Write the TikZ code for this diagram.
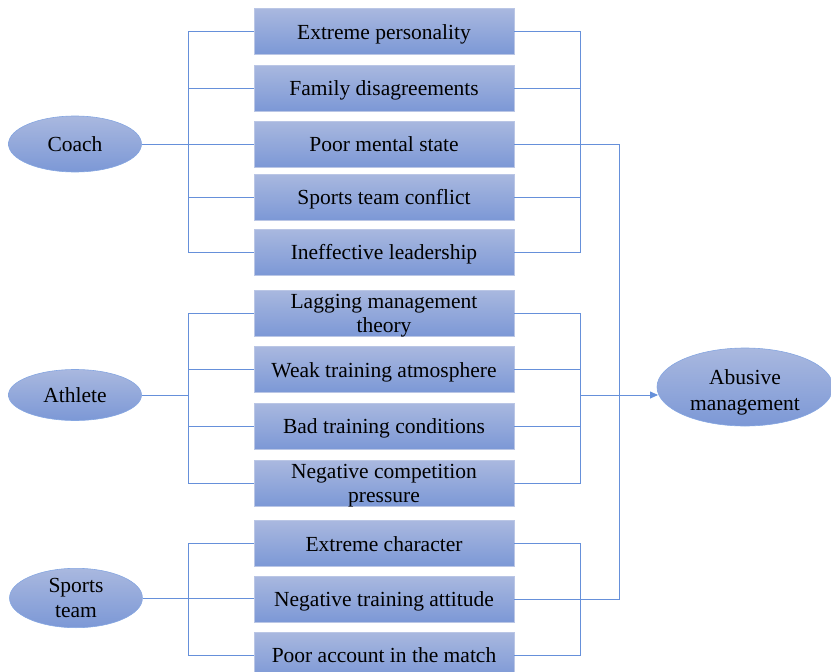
\documentclass[tikz,border=0pt]{standalone}
\usepackage{fontspec}
\setmainfont{Liberation Serif}
\usetikzlibrary{shapes.geometric,arrows.meta}
\definecolor{boxtop}{HTML}{A9B8DF}
\definecolor{boxbot}{HTML}{7C98D6}
\definecolor{linec}{HTML}{6690DA}
\begin{document}
\begin{tikzpicture}[x=1pt,y=-1pt,
  factor/.style={rectangle,minimum width=260pt,minimum height=46pt,inner sep=0pt,
    top color=boxtop,bottom color=boxbot,draw=boxtop!80!white,line width=0.6pt,
    font=\fontsize{21.5}{24}\selectfont,align=center,text height=17pt,text depth=2pt},
  actor/.style={ellipse,minimum width=133pt,minimum height=54pt,inner sep=0pt,
    top color=boxtop,bottom color=boxbot,draw=linec!80,line width=0.6pt,
    font=\fontsize{21.5}{25}\selectfont,align=center,text height=17pt,text depth=2pt},
  twoline/.style={text height=40pt,text depth=2pt},
  conn/.style={draw=linec,line width=0.8pt}]
\useasboundingbox (0,0) rectangle (831,672);
% Coach group
\node[factor] (b1) at (384,31.5) {Extreme personality};
\node[factor] (b2) at (384,88) {Family disagreements};
\node[factor] (b3) at (384,144) {Poor mental state};
\node[factor] (b4) at (384,197) {Sports team conflict};
\node[factor] (b5) at (384,252) {Ineffective leadership};
% Athlete group
\node[factor,twoline] (b6) at (384,313) {Lagging management\\theory};
\node[factor] (b7) at (384,369.5) {Weak training atmosphere};
\node[factor] (b8) at (384,426) {Bad training conditions};
\node[factor,twoline] (b9) at (384,483.5) {Negative competition\\pressure};
% Sports team group
\node[factor] (b10) at (384,543.5) {Extreme character};
\node[factor] (b11) at (384,599) {Negative training attitude};
\node[factor] (b12) at (384,655) {Poor account in the match};
% actors
\node[actor,minimum height=56pt] (coach) at (75,144) {Coach};
\node[actor,minimum height=51pt] (athlete) at (75,395) {Athlete};
\node[actor,minimum height=51pt,twoline] (team) at (76,598) {Sports\\team};
\node[actor,minimum width=176pt,minimum height=78pt,font=\fontsize{21.5}{26}\selectfont,
  text height=48pt,text depth=2pt] (abuse) at (745,387) {Abusive\\management};
% bus coordinates
\coordinate (cl) at (188,0);
\coordinate (cr) at (580,0);
\coordinate (m) at (619,0);
% Coach connectors
\draw[conn] (b1.west) -- (b1.west -| cl) -- (b5.west -| cl) -- (b5.west);
\draw[conn] (b2.west) -- (b2.west -| cl);
\draw[conn] (b4.west) -- (b4.west -| cl);
\draw[conn] (coach.east) -- (coach.east -| b3.west);
\draw[conn] (b1.east) -- (b1.east -| cr) -- (b5.east -| cr) -- (b5.east);
\draw[conn] (b2.east) -- (b2.east -| cr);
\draw[conn] (b4.east) -- (b4.east -| cr);
% Athlete connectors
\draw[conn] (b6.west) -- (b6.west -| cl) -- (b9.west -| cl) -- (b9.west);
\draw[conn] (b7.west) -- (b7.west -| cl);
\draw[conn] (b8.west) -- (b8.west -| cl);
\draw[conn] (athlete.east) -- (athlete.east -| cl);
\draw[conn] (b6.east) -- (b6.east -| cr) -- (b9.east -| cr) -- (b9.east);
\draw[conn] (b7.east) -- (b7.east -| cr);
\draw[conn] (b8.east) -- (b8.east -| cr);
\coordinate (ar) at (580,395);
\coordinate (ah) at (658,395);
\draw[conn,-{Triangle[length=8pt,width=7pt]}] (ar) -- (ah);
% Sports team connectors
\draw[conn] (b10.west) -- (b10.west -| cl) -- (b12.west -| cl) -- (b12.west);
\draw[conn] (team.east) -- (team.east -| b11.west);
\draw[conn] (b10.east) -- (b10.east -| cr) -- (b12.east -| cr) -- (b12.east);
% main line
\draw[conn] (b3.east) -- (b3.east -| m) -- (b11.east -| m) -- (b11.east);
\end{tikzpicture}
\end{document}
